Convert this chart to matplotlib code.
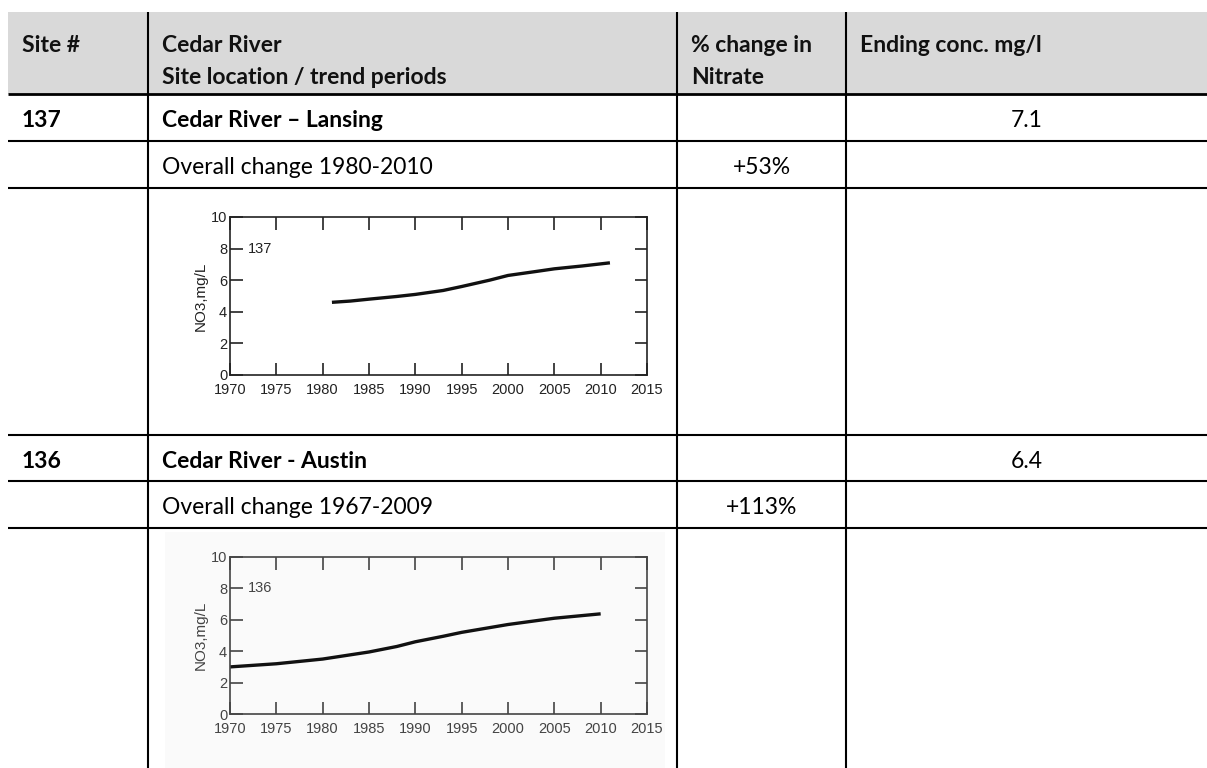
import matplotlib.pyplot as plt
from matplotlib.patches import Rectangle

# --- Table content ---
header_cols = [["Site #"],
               ["Cedar River", "Site location / trend periods"],
               ["% change in", "Nitrate"],
               ["Ending conc. mg/l"]]
site_ids = ["137", "136"]
site_names = ["Cedar River \u2013 Lansing", "Cedar River - Austin"]
trend_periods = ["Overall change 1980-2010", "Overall change 1967-2009"]
pct_change = ["+53%", "+113%"]
ending_conc = ["7.1", "6.4"]

# --- Trend curves ---
years_137 = [1981, 1983, 1985, 1988, 1990, 1993, 1995, 1998, 2000, 2003, 2005, 2008, 2011]
no3_137 = [4.6, 4.68, 4.8, 4.97, 5.1, 5.35, 5.6, 6.0, 6.3, 6.55, 6.72, 6.9, 7.1]
years_136 = [1970, 1975, 1980, 1985, 1988, 1990, 1993, 1995, 2000, 2005, 2010]
no3_136 = [3.0, 3.2, 3.5, 3.95, 4.3, 4.6, 4.95, 5.2, 5.7, 6.1, 6.38]

# --- Layout (pixels) ---
W, H = 1207, 768
col_x = [8, 148, 677, 846, W]
row_y = [12, 94, 141, 188, 435, 481, 528, H]
chart_boxes = [(230, 217, 647, 375), (230, 557, 647, 714)]

plt.rcParams['font.family'] = ['Lato', 'DejaVu Sans']
BODY = 16.5
CHART_FONT = ['Liberation Sans', 'DejaVu Sans']

fig = plt.figure(figsize=(W / 100, H / 100), dpi=100)
tab = fig.add_axes([0, 0, 1, 1])
tab.set_xlim(0, W)
tab.set_ylim(H, 0)
tab.axis('off')

# header band
tab.add_patch(Rectangle((col_x[0], row_y[0]), W - col_x[0], row_y[1] - row_y[0],
                        facecolor='#d9d9d9', edgecolor='none'))
# faint scan background behind the second plot
tab.add_patch(Rectangle((165, 532), 500, 236, facecolor='#fafafa', edgecolor='none'))

# grid lines
for i, y in enumerate(row_y[1:-1]):
    tab.plot([col_x[0], W], [y, y], color='black', lw=2.0 if i == 0 else 1.5,
             solid_capstyle='butt')
for x in col_x[1:-1]:
    tab.plot([x, x], [row_y[0], H], color='black', lw=1.5, solid_capstyle='butt')

# header text
for j, lines in enumerate(header_cols):
    for k, line in enumerate(lines):
        tab.text(col_x[j] + 14, 46 + 31 * k, line, fontsize=BODY, fontweight='bold',
                 va='center', ha='left', color='#111')

# body rows
for i in range(len(site_ids)):
    r = 1 + 3 * i
    y_name = (row_y[r] + row_y[r + 1]) / 2 + 3
    y_per = (row_y[r + 1] + row_y[r + 2]) / 2 + 3
    tab.text(col_x[0] + 14, y_name, site_ids[i], fontsize=BODY, fontweight='bold', va='center')
    tab.text(col_x[1] + 14, y_name, site_names[i], fontsize=BODY, fontweight='bold', va='center')
    tab.text((col_x[3] + col_x[4]) / 2, y_name, ending_conc[i], fontsize=BODY, va='center', ha='center')
    tab.text(col_x[1] + 14, y_per, trend_periods[i], fontsize=BODY, va='center')
    tab.text((col_x[2] + col_x[3]) / 2, y_per, pct_change[i], fontsize=BODY, va='center', ha='center')


def draw_trend(box, years, values, site, ink):
    x0, y0, x1, y1 = box
    ax = fig.add_axes([x0 / W, 1 - y1 / H, (x1 - x0) / W, (y1 - y0) / H])
    ax.patch.set_alpha(0)
    ax.plot(years, values, color='#111', lw=2.4, solid_capstyle='butt')
    ax.set_xlim(1970, 2015)
    ax.set_ylim(0, 10)
    ax.set_xticks(range(1970, 2016, 5))
    ax.set_yticks(range(0, 11, 2))
    ax.tick_params(direction='in', top=True, right=True, length=9, width=1.2,
                   color=ink, labelcolor=ink, labelsize=10.5)
    ax.tick_params(axis='x', pad=6)
    ax.tick_params(axis='y', pad=2)
    for lab in ax.get_xticklabels() + ax.get_yticklabels():
        lab.set_family(CHART_FONT)
    for s in ax.spines.values():
        s.set_linewidth(1.2)
        s.set_color(ink)
    ax.set_ylabel("NO3,mg/L", fontsize=11, family=CHART_FONT, color=ink, labelpad=2)
    ax.text(1971.9, 8, site, va='center', fontsize=10.5, family=CHART_FONT, color=ink)


draw_trend(chart_boxes[0], years_137, no3_137, site_ids[0], '#222')
draw_trend(chart_boxes[1], years_136, no3_136, site_ids[1], '#444')

fig.savefig('out.png', dpi=100)
